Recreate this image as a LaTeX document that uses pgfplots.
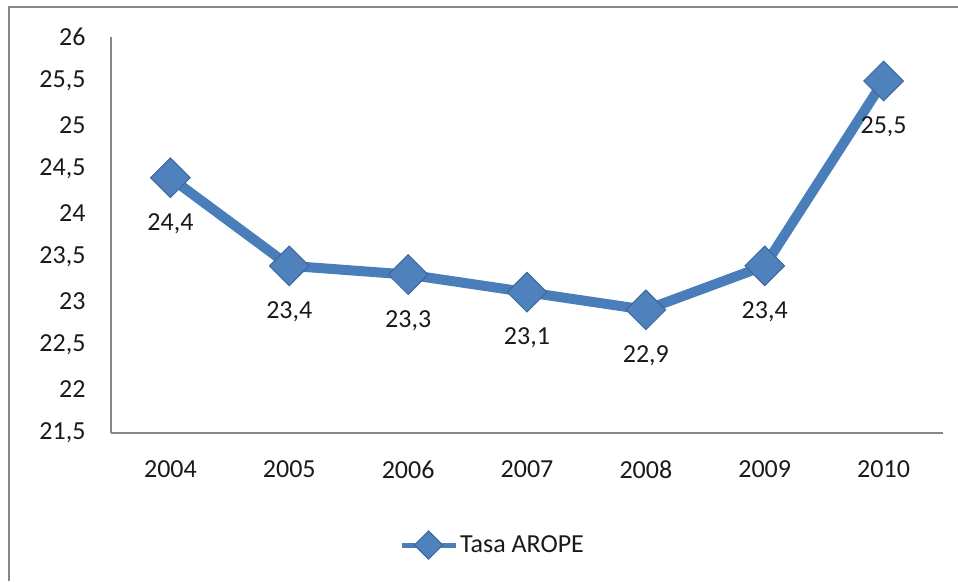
\documentclass[border=0pt]{standalone}
\usepackage{fontspec}
\setmainfont{Carlito}
\usepackage{pgfplots}
\pgfplotsset{compat=1.18}
\definecolor{lineblue}{HTML}{4A7EBB}
\definecolor{markblue}{HTML}{4F81BD}
\definecolor{markdark}{HTML}{3A66A0}
\definecolor{axgray}{HTML}{868686}
\definecolor{txt}{HTML}{1A1A1A}
\begin{document}
\begin{tikzpicture}[x=1pt,y=1pt]
\useasboundingbox (0,0) rectangle (958,581);
\draw[axgray, line width=2pt] (9,0) -- (9,574) -- (958,574);
\begin{axis}[
  at={(111pt,148pt)}, anchor=south west,
  scale only axis, width=832pt, height=396pt,
  xmin=-0.5, xmax=6.5, ymin=21.5, ymax=26,
  xtick={0,...,6}, xticklabels={2004,2005,2006,2007,2008,2009,2010},
  ytick={21.5,22,...,26},
  axis x line*=bottom, axis y line*=left,
  axis line style={axgray, line width=1.2pt, -},
  major tick length=0pt,
  /pgf/number format/assume math mode=true,
  /pgf/number format/use comma,
  /pgf/number format/fixed,
  /pgf/number format/precision=1,
  ticklabel style={font=\fontsize{26}{30}\selectfont, text=txt},
  yticklabel style={xshift=-22pt},
  xticklabel style={yshift=-24pt},
  clip=false,
  legend style={at={(0.4585,-0.283)}, anchor=center, draw=none, fill=none,
    font=\fontsize{26}{30}\selectfont, text=txt},
  legend image code/.code={
    \draw[#1, line width=5pt, mark size=10pt, mark repeat=2, mark phase=2]
      plot coordinates {(0pt,0pt) (27pt,0pt) (54pt,0pt)};
  },
]
\addplot[lineblue, line width=10pt, mark=square*, mark size=14pt,
  mark options={rotate=45, fill=markblue, draw=markdark, line width=1pt},
  nodes near coords,
  every node near coord/.append style={anchor=center, yshift=-46pt,
    font=\fontsize{26}{30}\selectfont, text=txt,
    /pgf/number format/assume math mode=true, /pgf/number format/use comma,
    /pgf/number format/fixed, /pgf/number format/fixed zerofill,
    /pgf/number format/precision=1}]
  coordinates {(0,24.4) (1,23.4) (2,23.3) (3,23.1) (4,22.9) (5,23.4) (6,25.5)};
\addlegendentry{Tasa AROPE}
\end{axis}
\end{tikzpicture}
\end{document}
